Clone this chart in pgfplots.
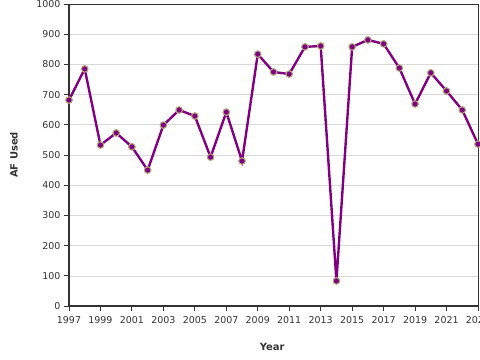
\documentclass[border=0pt]{standalone}
\usepackage{pgfplots}
\pgfplotsset{compat=1.18}
\usepackage{fontspec}
\setmainfont{DejaVu Sans}
\definecolor{lin}{HTML}{800080}
\definecolor{edge}{HTML}{B0A47C}
\definecolor{txt}{HTML}{333333}
\definecolor{grd}{HTML}{D9D9D9}
\begin{document}
\begin{tikzpicture}
\begin{axis}[
  scale only axis,
  width=409bp, height=302bp,
  xmin=1997, xmax=2023, ymin=0, ymax=1000,
  xtick={1997,1999,...,2023},
  ytick={0,100,...,1000},
  /pgf/number format/1000 sep={},
  /pgf/number format/assume math mode=true,
  tick label style={font=\fontsize{9.5}{11}\selectfont, text=txt},
  xticklabel style={yshift=-2bp},
  tick align=outside,
  major tick length=5bp,
  tick style={color=txt, line width=0.9pt},
  xtick pos=bottom, ytick pos=left,
  ymajorgrids,
  grid style={color=grd, line width=0.6pt},
  axis line style={color=txt, line width=0.6pt},
  xlabel={\textbf{Year}},
  ylabel={\textbf{AF Used}},
  label style={font=\fontsize{10}{12}\selectfont, text=txt},
  xlabel style={at={(axis description cs:0.497,-0.136)}, anchor=center},
  ylabel style={at={(axis description cs:-0.135,0.5)}, anchor=center, rotate=0},
  clip=false,
]
\addplot[color=lin, line width=2.4pt, mark=*, mark size=3.3pt,
  mark options={fill=lin, draw=edge, line width=1.1pt}]
  coordinates {
  (1997,682) (1998,785) (1999,533) (2000,573) (2001,527) (2002,450)
  (2003,599) (2004,649) (2005,629) (2006,493) (2007,642) (2008,480)
  (2009,834) (2010,775) (2011,768) (2012,858) (2013,861) (2014,83)
  (2015,858) (2016,881) (2017,868) (2018,788) (2019,669) (2020,772)
  (2021,712) (2022,649) (2023,536)
  };
\draw[color=txt, line width=1.8pt] (rel axis cs:0,1) -- (rel axis cs:0,0) -- (rel axis cs:1,0);
\end{axis}
\pgfresetboundingbox
\path[use as bounding box] (current axis.south west) ++(-69bp,-54bp) rectangle ++(480bp,360bp);
\end{tikzpicture}
\end{document}
